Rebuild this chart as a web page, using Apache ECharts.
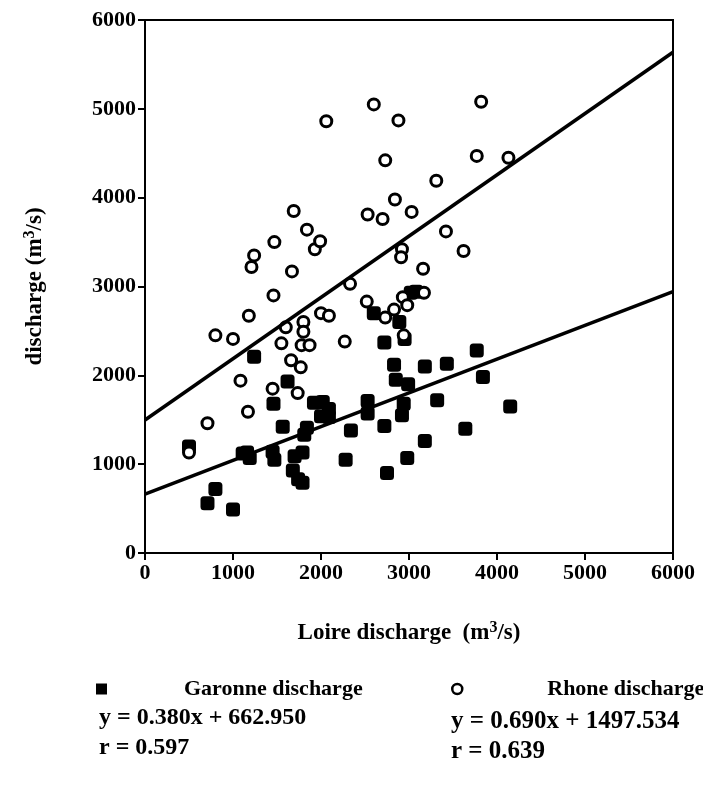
<!DOCTYPE html>
<html>
<head>
<meta charset="utf-8">
<script src="https://cdn.jsdelivr.net/npm/echarts@6/dist/echarts.min.js"></script>
<style>
  html, body { margin: 0; padding: 0; background: #fff; }
  #plot { width: 703px; height: 786px; }
</style>
</head>
<body>
<div id="plot"></div>
<script>
// Loire discharge (x) against Garonne / Rhone discharge (y), m3/s
const garonneX = [500, 710, 800, 1000, 1110, 1160, 1190, 1240, 1450, 1470, 1460, 1565, 1620, 1700, 1790, 1680, 1740, 1790, 1840, 1810, 1920, 2020, 2090, 2090, 2000, 2280, 2340, 2530, 2530, 2600, 2720, 2750, 2980, 2720, 2950, 2830, 2850, 2990, 2940, 2920, 2890, 3020, 3080, 3180, 3430, 3770, 3840, 3320, 4150, 3640, 3180];
const garonneY = [1200, 560, 720, 490, 1120, 1130, 1070, 2210, 1140, 1050, 1680, 1420, 1930, 1090, 1130, 930, 830, 790, 1410, 1330, 1690, 1700, 1620, 1530, 1540, 1050, 1380, 1710, 1570, 2700, 1430, 900, 1070, 2370, 2410, 2120, 1950, 1900, 1680, 1550, 2600, 2930, 2940, 2100, 2130, 2280, 1980, 1720, 1650, 1400, 1260];

const rhoneX = [500, 710, 800, 1000, 1085, 1170, 1180, 1210, 1240, 1450, 1460, 1470, 1550, 1600, 1660, 1670, 1690, 1735, 1770, 1780, 1800, 1800, 1840, 1870, 1930, 1990, 2000, 2060, 2090, 2270, 2330, 2520, 2530, 2600, 2700, 2730, 2730, 2830, 2840, 2880, 2920, 2910, 2930, 2940, 2980, 3030, 3160, 3170, 3310, 3420, 3620, 3770, 3820, 4130];
const rhoneY = [1130, 1460, 2450, 2410, 1940, 1590, 2670, 3220, 3350, 1850, 2900, 3500, 2360, 2540, 2170, 3170, 3850, 1800, 2090, 2340, 2600, 2490, 3640, 2340, 3420, 3510, 2700, 4860, 2670, 2380, 3030, 2830, 3810, 5050, 3760, 4420, 2650, 2740, 3980, 4870, 3420, 3330, 2880, 2450, 2790, 3840, 3200, 2930, 4190, 3620, 3400, 4470, 5080, 4450];

// regression fits: [slope, intercept, r]
const garonneFit = [0.380, 662.950, 0.597];
const rhoneFit = [0.690, 1497.534, 0.639];

const xTicks = [0, 1000, 2000, 3000, 4000, 5000, 6000];

const serif = '"Liberation Serif", "DejaVu Serif", serif';

function zip(xs, ys) {
  return xs.map((x, i) => [x, ys[i]]);
}

function fitLine(fit) {
  const x0 = xTicks[0];
  const x1 = xTicks[xTicks.length - 1];
  return [[x0, fit[0] * x0 + fit[1]], [x1, fit[0] * x1 + fit[1]]];
}

function eqText(fit) {
  return 'y = ' + fit[0].toFixed(3) + 'x + ' + fit[1].toFixed(3) + '\nr = ' + fit[2].toFixed(3);
}

const nameStyle = {
  color: '#000',
  fontFamily: serif,
  fontWeight: 'bold',
  fontSize: 23,
  rich: {
    n: { fontFamily: serif, fontWeight: 'bold', fontSize: 23, color: '#000', verticalAlign: 'bottom' },
    sup: { fontFamily: serif, fontWeight: 'bold', fontSize: 16, color: '#000', verticalAlign: 'bottom', padding: [0, 0, 9, 0] }
  }
};

const axisCommon = {
  type: 'value',
  min: 0,
  max: 6000,
  interval: 1000,
  axisLine: { show: true, lineStyle: { color: '#000', width: 2 } },
  axisTick: { show: true, inside: false, length: 7, lineStyle: { color: '#000', width: 2 } },
  axisLabel: {
    color: '#000', fontFamily: serif, fontWeight: 'bold', fontSize: 22, margin: 9,
    formatter: (v) => String(v)
  },
  splitLine: { show: false },
  nameLocation: 'middle',
  nameTextStyle: nameStyle
};

const chart = echarts.init(document.getElementById('plot'));

chart.setOption({
  animation: false,
  backgroundColor: '#fff',
  grid: {
    left: 145, right: 30, top: 20, bottom: 233,
    show: true, borderColor: '#000', borderWidth: 2
  },
  xAxis: Object.assign({}, axisCommon, {
    name: '{n|Loire discharge  (m}{sup|3}{n|/s)}',
    nameGap: 67
  }),
  yAxis: Object.assign({}, axisCommon, {
    name: '{n|discharge (m}{sup|3}{n|/s)}',
    nameGap: 98
  }),
  legend: [
    {
      left: 91, top: 673,
      data: ['Garonne discharge'],
      icon: 'rect', itemWidth: 11, itemHeight: 11,
      textStyle: { color: '#000', fontFamily: serif, fontWeight: 'bold', fontSize: 22, padding: [0, 0, 0, 72] }
    },
    {
      left: 446, top: 673,
      data: ['Rhone discharge'],
      icon: 'circle', itemWidth: 10, itemHeight: 10,
      itemStyle: { color: '#fff', borderColor: '#000', borderWidth: 2.5 },
      textStyle: { color: '#000', fontFamily: serif, fontWeight: 'bold', fontSize: 22, padding: [0, 0, 0, 80] }
    }
  ],
  graphic: [
    {
      type: 'text', left: 99, top: 703,
      style: { text: eqText(garonneFit), fill: '#000', font: 'bold 24px ' + serif, lineHeight: 30 }
    },
    {
      type: 'text', left: 451, top: 707,
      style: { text: eqText(rhoneFit), fill: '#000', font: 'bold 25px ' + serif, lineHeight: 30 }
    }
  ],
  series: [
    {
      name: 'Garonne fit', type: 'line', data: fitLine(garonneFit),
      symbol: 'none', silent: true,
      lineStyle: { color: '#000', width: 3.5 }
    },
    {
      name: 'Rhone fit', type: 'line', data: fitLine(rhoneFit),
      symbol: 'none', silent: true,
      lineStyle: { color: '#000', width: 3.5 }
    },
    {
      name: 'Garonne discharge', type: 'scatter', data: zip(garonneX, garonneY),
      symbol: 'roundRect', symbolSize: 14,
      itemStyle: { color: '#000', opacity: 1 }
    },
    {
      name: 'Rhone discharge', type: 'scatter', data: zip(rhoneX, rhoneY),
      symbol: 'circle', symbolSize: 11,
      itemStyle: { color: '#fff', borderColor: '#000', borderWidth: 3, opacity: 1 }
    }
  ]
});
</script>
</body>
</html>
